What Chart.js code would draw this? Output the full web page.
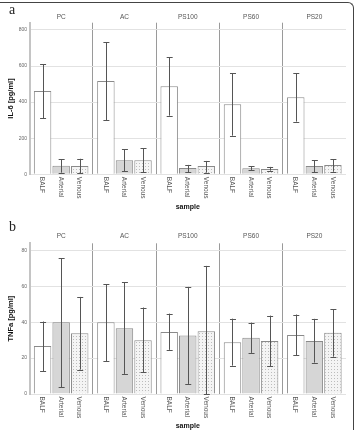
<!DOCTYPE html>
<html>
<head>
<meta charset="utf-8">
<script src="https://cdn.jsdelivr.net/npm/chart.js@4.4.0/dist/chart.umd.min.js"></script>
<style>
  body { margin: 0; background: #fff; }
  #wrap { position: relative; width: 359px; height: 430px; overflow: hidden; }
  #frame {
    position: absolute; left: -3px; top: 2px; width: 356px; height: 440px;
    border-top: 1px solid #444; border-right: 1px solid #444;
    border-top-right-radius: 6px;
  }
  canvas { position: absolute; left: 0; }
  .tag { position: absolute; left: 9px; font-family: "Liberation Serif", serif; font-size: 14px; color: #222; }
</style>
</head>
<body>
<div id="wrap">
  <div id="frame"></div>
  <canvas id="chartA" width="359" height="215" style="top:0"></canvas>
  <canvas id="chartB" width="359" height="215" style="top:215px"></canvas>
  <div class="tag" style="top:2px">a</div>
  <div class="tag" style="top:219px">b</div>
</div>
<script>
// facets (top) and samples (bars inside each facet)
const facets = ['PC', 'AC', 'PS100', 'PS60', 'PS20'];
const samples = ['BALF', 'Arterial', 'Venous'];

// y tick values
const il6Ticks = [0, 200, 400, 600, 800];
const tnfTicks = [0, 20, 40, 60, 80];

// IL-6 [pg/ml] means and error bar ends
const il6Balf = [462, 517, 488, 388, 427];
const il6BalfLow = [310, 299, 325, 214, 292];
const il6BalfHigh = [611, 732, 648, 560, 560];
const il6Arterial = [48, 78, 35, 33, 46];
const il6ArterialLow = [9, 18, 11, 24, 11];
const il6ArterialHigh = [83, 139, 52, 44, 79];
const il6Venous = [46, 78, 46, 29, 52];
const il6VenousLow = [5, 11, 9, 20, 14];
const il6VenousHigh = [86, 144, 74, 41, 83];

// TNFa [pg/ml] means and error bar ends
const tnfBalf = [26.8, 40, 34.6, 28.8, 32.9];
const tnfBalfLow = [12.8, 18.4, 24.6, 15.8, 21.6];
const tnfBalfHigh = [40.4, 61.2, 44.8, 42, 44.3];
const tnfArterial = [40, 36.7, 32.6, 31.3, 29.6];
const tnfArterialLow = [3.9, 11.2, 5.6, 22.9, 17.5];
const tnfArterialHigh = [75.7, 62.3, 59.7, 39.8, 41.9];
const tnfVenous = [33.9, 30, 35, 29.6, 34.2];
const tnfVenousLow = [13.6, 12.1, 0, 15.6, 20.8];
const tnfVenousHigh = [54.1, 48.2, 71.4, 43.7, 47.3];

const FONT = 'Liberation Sans, Arial, sans-serif';

// dotted fill for the Venous bars
function dotPattern() {
  const c = document.createElement('canvas');
  c.width = 3; c.height = 3;
  const g = c.getContext('2d');
  g.fillStyle = '#f4f4f4';
  g.fillRect(0, 0, 3, 3);
  g.fillStyle = '#bcbcbc';
  g.fillRect(1, 1, 1, 1);
  return g.createPattern(c, 'repeat');
}

function buildPanel(id, p) {
  const ctx = document.getElementById(id).getContext('2d');

  const extras = {
    id: 'extras',
    afterDatasetsDraw(chart) {
      const c = chart.ctx;
      const y = chart.scales.y;
      const area = chart.chartArea;
      chart.data.datasets.forEach((ds, i) => {
        const meta = chart.getDatasetMeta(i);
        meta.data.forEach((bar, j) => {
          // error bar
          const lo = y.getPixelForValue(p.low[i][j]);
          const hi = y.getPixelForValue(p.high[i][j]);
          c.save();
          c.strokeStyle = '#555';
          c.lineWidth = 1;
          c.beginPath();
          c.moveTo(Math.round(bar.x) + 0.5, hi);
          c.lineTo(Math.round(bar.x) + 0.5, lo);
          c.moveTo(bar.x - 2.5, Math.round(hi) + 0.5);
          c.lineTo(bar.x + 3.5, Math.round(hi) + 0.5);
          c.moveTo(bar.x - 2.5, Math.round(lo) + 0.5);
          c.lineTo(bar.x + 3.5, Math.round(lo) + 0.5);
          c.stroke();
          // sample label under the bar, rotated clockwise
          c.translate(bar.x, area.bottom + 2.5);
          c.rotate(Math.PI / 2);
          c.fillStyle = '#555';
          c.font = '6.5px ' + FONT;
          c.textAlign = 'left';
          c.textBaseline = 'middle';
          c.fillText(samples[i], 0, 0.5);
          c.restore();
        });
      });
    }
  };

  return new Chart(ctx, {
    type: 'bar',
    data: {
      labels: facets,
      datasets: [
        { label: samples[0], data: p.values[0], backgroundColor: '#ffffff' },
        { label: samples[1], data: p.values[1], backgroundColor: '#d6d6d6' },
        { label: samples[2], data: p.values[2], backgroundColor: dotPattern() }
      ]
    },
    options: {
      responsive: false,
      animation: false,
      layout: { padding: { left: 0, right: 13, top: 0, bottom: 0 } },
      datasets: {
        bar: {
          borderColor: '#8a8a8a',
          borderWidth: 1,
          categoryPercentage: 0.88,
          barPercentage: 0.94
        }
      },
      plugins: { legend: { display: false }, tooltip: { enabled: false } },
      scales: {
        x: {
          position: 'bottom',
          offset: true,
          border: { display: false },
          grid: {
            offset: true,
            drawTicks: false,
            color: c => (c.index > 0 && c.index < facets.length) ? '#9a9a9a' : 'rgba(0,0,0,0)'
          },
          ticks: { display: false },
          title: {
            display: true, text: 'sample', color: '#111',
            font: { family: FONT, size: 7, weight: 'bold' },
            padding: { top: 0, bottom: p.sampleBottom }
          },
          afterFit: s => { s.height = p.bottomH; }
        },
        x2: {
          type: 'category',
          position: 'top',
          offset: true,
          border: { display: false },
          grid: { display: false, drawTicks: false },
          ticks: { color: '#555', font: { family: FONT, size: 6.5 }, padding: p.facetPad },
          afterFit: s => { s.height = p.topH; }
        },
        y: {
          min: 0,
          max: p.yMax,
          border: { display: true, color: '#c4c4c4', width: 2 },
          grid: { color: '#e2e2e2', drawTicks: false },
          ticks: { color: '#666', font: { family: FONT, size: 5 }, padding: 2.5 },
          afterBuildTicks: s => { s.ticks = p.ticks.map(v => ({ value: v })); },
          title: {
            display: true, text: p.yTitle, color: '#111',
            font: { family: FONT, size: 7.5, weight: 'bold' },
            padding: { top: 6, bottom: 0 }
          },
          afterFit: s => { s.width = 29.5; }
        }
      }
    },
    plugins: [extras]
  });
}

buildPanel('chartA', {
  yTitle: 'IL-6 [pg/ml]',
  yMax: 840, ticks: il6Ticks,
  values: [il6Balf, il6Arterial, il6Venous],
  low: [il6BalfLow, il6ArterialLow, il6VenousLow],
  high: [il6BalfHigh, il6ArterialHigh, il6VenousHigh],
  topH: 22.7, bottomH: 40.7, facetPad: 1.8, sampleBottom: 3.5
});

buildPanel('chartB', {
  yTitle: 'TNFa [pg/ml]',
  yMax: 84, ticks: tnfTicks,
  values: [tnfBalf, tnfArterial, tnfVenous],
  low: [tnfBalfLow, tnfArterialLow, tnfVenousLow],
  high: [tnfBalfHigh, tnfArterialHigh, tnfVenousHigh],
  topH: 28.3, bottomH: 36, facetPad: 2.7, sampleBottom: 0
});
</script>
</body>
</html>
